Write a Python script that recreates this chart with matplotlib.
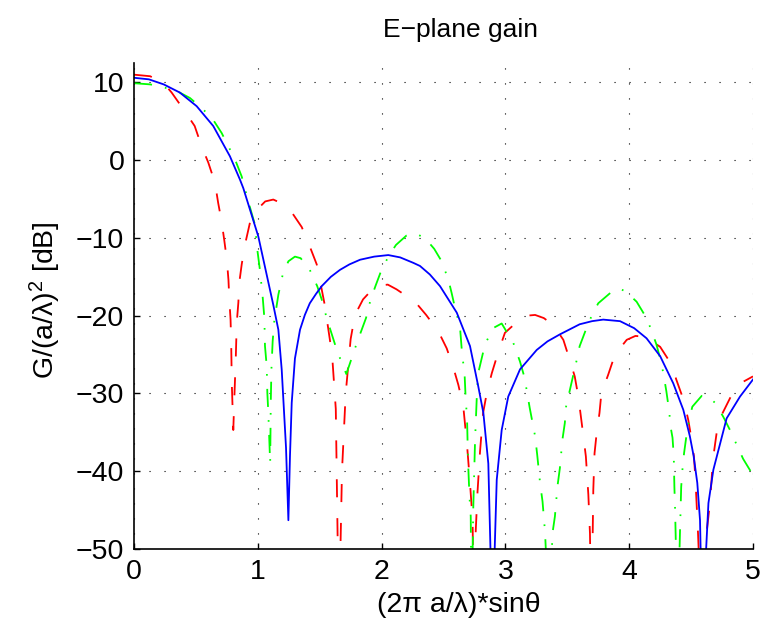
import matplotlib
matplotlib.use("Agg")
import matplotlib.pyplot as plt
import numpy as np

plt.rcParams['font.family'] = ['Liberation Sans', 'DejaVu Sans']
plt.rcParams['mathtext.default'] = 'regular'
plt.rcParams['lines.scale_dashes'] = False

# normalized gain curves (x = (2*pi*a/lambda)*sin(theta), y in dB)
x_blue = [0.00, 0.12, 0.24, 0.37, 0.506, 0.64, 0.775, 0.856, 0.883, 1.004, 1.125, 1.166,
          1.193, 1.228, 1.247, 1.260, 1.274, 1.30, 1.341, 1.38, 1.42, 1.47, 1.516, 1.59,
          1.664, 1.74, 1.826, 1.94, 2.054, 2.15, 2.256, 2.31, 2.39, 2.472, 2.607, 2.714,
          2.781, 2.822, 2.862, 2.895, 2.93, 2.97, 3.023, 3.118, 3.253, 3.34, 3.44, 3.60,
          3.70, 3.79, 3.926, 4.04, 4.14, 4.25, 4.356, 4.437, 4.49, 4.52, 4.55,
          4.572, 4.59, 4.64, 4.68, 4.787, 4.895, 5.0]
g_blue = [10.6, 10.4, 9.75, 8.7, 6.95, 4.4, 0.5, -2.5, -3.6, -9.8, -18.6, -21.8,
          -26.9, -37.0, -46.3, -38.0, -31.2, -25.5, -21.8, -19.9, -18.4, -17.2, -16.2, -15.0,
          -14.1, -13.4, -12.8, -12.4, -12.2, -12.5, -13.2, -13.6, -14.7, -16.2, -19.6, -23.9,
          -29.1, -32.5, -39.0, -60.0, -41.1, -34.7, -30.4, -26.9, -24.4, -23.3, -22.4, -21.1,
          -20.7, -20.5, -20.7, -21.6, -22.9, -25.2, -28.7, -32.1, -35.5, -38.0, -41.5,
          -46.3, -60.0, -44.1, -39.8, -33.2, -30.4, -28.2]

x_red = [0.00, 0.13, 0.237, 0.304, 0.41, 0.49, 0.546, 0.60, 0.654, 0.68, 0.708, 0.73,
         0.75, 0.763, 0.77, 0.78, 0.785, 0.79, 0.802, 0.81, 0.822, 0.83, 0.843, 0.85,
         0.87, 0.896, 0.937, 1.004, 1.06, 1.125, 1.20, 1.27, 1.355, 1.42, 1.476, 1.516,
         1.543, 1.56, 1.60, 1.63, 1.655, 1.68, 1.71, 1.75, 1.785, 1.85, 1.92, 1.99, 2.05,
         2.12, 2.27, 2.36, 2.458, 2.526, 2.58, 2.62, 2.66, 2.69, 2.714, 2.735, 2.745,
         2.76, 2.775, 2.795, 2.82, 2.85, 2.89, 2.94, 2.996, 3.10, 3.17, 3.24, 3.31, 3.387,
         3.468, 3.52, 3.56, 3.59, 3.61, 3.63, 3.65, 3.67, 3.683, 3.695, 3.71, 3.72,
         3.737, 3.76, 3.775, 3.83, 3.885, 3.98, 4.05, 4.128, 4.25, 4.343, 4.38, 4.443,
         4.477, 4.505, 4.523, 4.535, 4.556, 4.585, 4.61, 4.653, 4.67, 4.685, 4.706, 4.733,
         4.827, 4.92, 5.0]
g_red = [11.0, 10.8, 9.96, 8.7, 6.3, 4.4, 1.8, -0.3, -2.9, -5.5, -7.9, -10.4,
         -12.8, -15.4, -17.9, -20.5, -23.5, -28.7, -34.7, -30.8, -25.5, -20.9, -18.3, -15.8,
         -13.4, -10.9, -8.0, -6.2, -5.3, -5.06, -5.6, -6.6, -8.6, -11.1, -13.4, -16.6,
         -18.8, -20.7, -25.0, -32.0, -60.0, -40.0, -30.0, -23.0, -19.9, -17.9, -16.7, -16.1, -16.0,
         -16.6, -18.2, -19.9, -22.0, -24.2, -26.7, -28.9, -31.7, -36.6, -41.5, -46.3, -60.0,
         -47.8, -42.6, -37.5, -32.5, -29.9, -27.4, -24.8, -22.2, -20.7, -20.0, -19.9, -20.3, -21.2,
         -23.1, -25.7, -27.8, -30.5, -33.0, -35.5, -38.1, -43.0, -48.0, -60.0, -42.4, -37.7,
         -35.1, -32.5, -30.0, -27.6, -25.0, -23.1, -22.6, -22.7, -24.0, -26.3, -28.2, -31.0,
         -33.4, -36.0, -38.1, -41.0, -48.0, -60.0, -50.0, -44.0, -40.0, -37.5, -35.1, -33.2,
         -30.2, -28.5, -27.8]

x_green = [0.00, 0.13, 0.21, 0.345, 0.452, 0.546, 0.627, 0.708, 0.762, 0.816, 0.87, 0.923,
           0.977, 0.996, 1.017, 1.04, 1.053, 1.058, 1.072, 1.077, 1.085, 1.09, 1.095, 1.10,
           1.105, 1.11, 1.12, 1.133, 1.166, 1.20, 1.247, 1.30, 1.346, 1.42, 1.48, 1.516,
           1.56, 1.64, 1.715, 1.80, 1.874, 1.91, 1.95, 1.99, 2.054, 2.116, 2.20, 2.27,
           2.35, 2.425, 2.485, 2.54, 2.566, 2.593, 2.633, 2.65, 2.67, 2.68, 2.69, 2.695,
           2.70, 2.71, 2.72, 2.727, 2.74, 2.755, 2.77, 2.78, 2.835, 2.90, 2.97, 3.064,
           3.118, 3.15, 3.17, 3.197, 3.24, 3.257, 3.28, 3.30, 3.32, 3.355, 3.38, 3.40,
           3.42, 3.44, 3.46, 3.48, 3.49, 3.516, 3.55, 3.576, 3.60, 3.65, 3.697, 3.75,
           3.86, 3.92, 3.974, 4.06, 4.14, 4.18, 4.22, 4.26, 4.28, 4.30, 4.325, 4.33,
           4.35, 4.36, 4.365, 4.37, 4.375, 4.39, 4.42, 4.43, 4.443, 4.46, 4.483, 4.51,
           4.586, 4.64, 4.693, 4.76, 4.814, 4.868, 4.92, 5.0]
g_green = [9.9, 9.75, 9.5, 8.9, 8.0, 6.7, 5.5, 3.5, 1.8, 0.1, -2.1, -5.3,
           -8.3, -11.5, -14.1, -17.7, -20.3, -23.9, -26.5, -29.9, -32.5, -34.7, -37.0, -39.0,
           -31.0, -26.9, -23.3, -20.7, -17.3, -14.8, -13.0, -12.4, -12.6, -14.1, -16.2, -17.9,
           -20.5, -24.5, -27.5, -23.5, -20.3, -18.0, -16.2, -14.5, -12.4, -10.9, -9.7, -9.4,
           -10.0, -11.4, -13.0, -15.4, -17.1, -19.0, -21.4, -24.9, -27.4, -31.0, -33.0, -36.6,
           -39.4, -43.3, -45.8, -60.0, -45.0, -36.0, -30.0, -27.4, -23.7, -21.6, -21.0, -23.5,
           -25.9, -27.7, -29.4, -31.9, -35.5, -37.9, -41.5, -43.9, -47.8, -60.0, -48.0, -45.8,
           -42.0, -39.6, -36.0, -33.8, -31.7, -29.9, -27.6, -25.7, -23.9, -21.8, -20.0, -18.4,
           -16.9, -16.5, -16.9, -18.2, -20.3, -21.9, -23.7, -26.1, -27.8, -29.7, -32.5, -33.9,
           -35.7, -38.1, -42.0, -44.5, -48.0, -60.0, -42.0, -39.8, -37.7, -35.7, -33.4, -31.7,
           -30.3, -30.4, -31.2, -33.0, -34.7, -36.6, -38.4, -40.5]

x_ticks = [0, 1, 2, 3, 4, 5]
y_ticks = [-50, -40, -30, -20, -10, 0, 10]

W, H = 761, 642
fig = plt.figure(figsize=(W / 100, H / 100), dpi=100)
ax = fig.add_axes([134 / W, 93 / H, 619 / W, 486 / H])

ax.plot(x_red, g_red, color='#ff0000', lw=1.3, dashes=(13, 15))
ax.plot(x_green, g_green, color='#00ff00', lw=1.3, dashes=(13, 9.5, 1.2, 9.5))
ax.plot(x_blue, g_blue, color='#0000ff', lw=1.3)

ax.set_xlim(0, 5)
ax.set_ylim(-50, 12.5)
ax.set_xticks(x_ticks)
ax.set_yticks(y_ticks)
ax.set_xticklabels([str(t) for t in x_ticks])
ax.set_yticklabels([str(t).replace('-', '\u2212') for t in y_ticks])

ax.grid(True, color='black', lw=0.8, linestyle=(0, (0.8, 10)))
for side in ('top', 'right'):
    ax.spines[side].set_visible(False)
for side in ('left', 'bottom'):
    ax.spines[side].set_linewidth(1.2)
ax.tick_params(direction='in', length=4.5, width=1.0, labelsize=20.5, pad=7)

fig.text(461 / W, 1 - 30 / H, 'E\u2212plane gain', ha='center', va='center', fontsize=19)
fig.text(459 / W, 1 - 605 / H, '(2\u03c0 a/\u03bb)*sin\u03b8', ha='center', va='center', fontsize=20.5)
fig.text(45 / W, 1 - 300 / H, 'G/(a/\u03bb)$^2$ [dB]', ha='center', va='center',
         rotation=90, fontsize=20.5)

fig.savefig('out.png', dpi=100)
